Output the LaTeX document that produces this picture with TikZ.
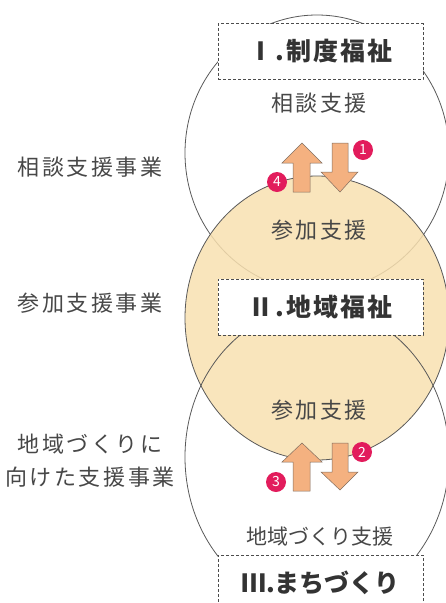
\documentclass[tikz,border=0pt]{standalone}
\usepackage{fontspec}
\setmainfont{Noto Sans CJK JP}
\definecolor{sankafill}{RGB}{248,224,176}
\definecolor{arrowfill}{RGB}{244,177,128}
\definecolor{arrowline}{RGB}{130,110,95}
\definecolor{badgered}{RGB}{226,28,92}
\begin{document}
\begin{tikzpicture}[x=1pt,y=-1pt,
  ring/.style={draw=black!65,line width=0.8pt},
  titlebox/.style={draw=black!70,densely dashed,line width=0.6pt,fill=white,minimum width=205pt,minimum height=56pt,font=\fontsize{25}{28}\selectfont\bfseries\addfontfeature{LetterSpace=8},text=black!80},
  lab/.style={font=\fontsize{22}{25}\selectfont\addfontfeature{LetterSpace=10},text=black!72},
  side/.style={font=\fontsize{22}{33}\selectfont\addfontfeature{LetterSpace=12},text=black!72,align=center},
  updown/.style={fill=arrowfill,draw=arrowline,line width=0.5pt},
  badge/.style={circle,fill=badgered,text=white,inner sep=0pt,minimum size=20pt,font=\fontsize{14}{14}\selectfont}]
\useasboundingbox (0,0) rectangle (446,603);
\begin{scope}
\clip (0,0) rectangle (446,603);
% circles
\draw[ring] (317,153) ellipse [x radius=132, y radius=138];
\fill[sankafill,fill opacity=0.85] (317,318) ellipse [x radius=132, y radius=142];
\draw[ring] (317,318) ellipse [x radius=132, y radius=142];
\draw[ring] (317,457) ellipse [x radius=132, y radius=150];
% boxes
\node[titlebox] (seido) at (320.5,51.5) {Ⅰ.制度福祉};
\node[titlebox] (chiiki) at (320.5,307) {Ⅱ.地域福祉};
\node[titlebox,font=\fontsize{25}{28}\selectfont\bfseries] (machi) at (320.5,583) {Ⅲ.まちづくり};
\end{scope}
% texts
\node[lab] (sodan) at (319,103) {相談支援};
\node[lab] (sankaA) at (319,230) {参加支援};
\node[lab] (sankaB) at (319,410) {参加支援};
\node[lab,font=\fontsize{21}{25}\selectfont] (zukuri) at (320,537) {地域づくり支援};
\node[side] (sodanjigyo) at (90,167) {相談支援事業};
\node[side] (sankajigyo) at (90,303) {参加支援事業};
\node[side] (zukurijigyo) at (90,461) {地域づくりに\\向けた支援事業};
% arrows
\draw[updown] (293,192) -- (293,163) -- (282,163) -- (302,143) -- (322,163) -- (310,163) -- (310,192) -- cycle;
\draw[updown] (332,143) -- (348,143) -- (348,172) -- (358,172) -- (340,192) -- (321,172) -- (332,172) -- cycle;
\draw[updown] (293,491) -- (293,462) -- (282,462) -- (302,443) -- (322,462) -- (310,462) -- (310,491) -- cycle;
\draw[updown] (332,443) -- (348,443) -- (348,472) -- (358,472) -- (340,490) -- (321,472) -- (332,472) -- cycle;
% badges
\node[badge] (n1) at (363,150) {1};
\node[badge] (n4) at (277,182) {4};
\node[badge] (n2) at (362,452) {2};
\node[badge] (n3) at (276,482) {3};
\end{tikzpicture}
\end{document}
